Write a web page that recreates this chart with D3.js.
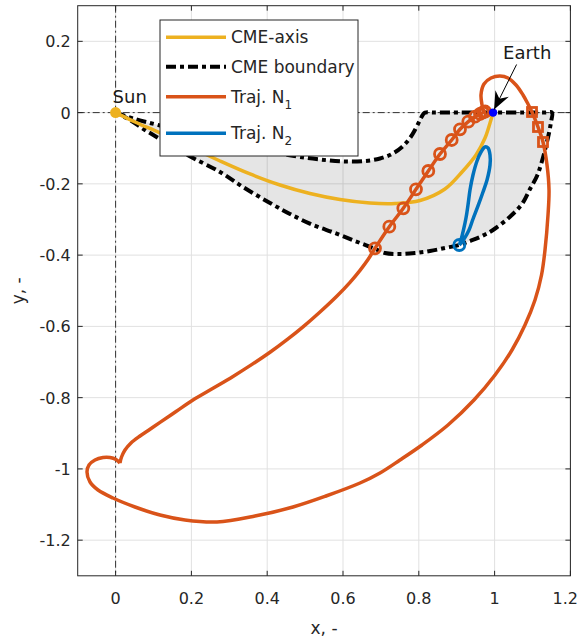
<!DOCTYPE html>
<html>
<head>
<meta charset="utf-8">
<script src="https://cdn.jsdelivr.net/npm/d3@7"></script>
<style>
  html, body { margin: 0; padding: 0; background: #fff; }
  svg { display: block; font-family: "DejaVu Sans", sans-serif; }
</style>
</head>
<body>
<svg id="chart" width="579" height="643"></svg>
<script>
// ---------------- data ----------------
const xTicks = [0, 0.2, 0.4, 0.6, 0.8, 1, 1.2];
const yTicks = [0.2, 0, -0.2, -0.4, -0.6, -0.8, -1, -1.2];
const xTickLabels = ["0", "0.2", "0.4", "0.6", "0.8", "1", "1.2"];
const yTickLabels = ["0.2", "0", "-0.2", "-0.4", "-0.6", "-0.8", "-1", "-1.2"];

// CME axis (yellow)
const cmeAxisX = [0, 0.0512, 0.1172, 0.1963, 0.2755, 0.3546, 0.4338, 0.5129, 0.5921, 0.6712, 0.7372, 0.8032, 0.8691, 0.9140, 0.9509, 0.9747, 0.9879, 0.996];
const cmeAxisY = [0, -0.0264, -0.0573, -0.0965, -0.1358, -0.1723, -0.2032, -0.2271, -0.2439, -0.2537, -0.2551, -0.2467, -0.2144, -0.1667, -0.1190, -0.0713, -0.0292, 0];

// CME boundary (closed contour)
const cmeBoundX = [0, 0.0512, 0.1172, 0.2227, 0.3282, 0.4417, 0.4865, 0.5393, 0.6000, 0.6580, 0.6976, 0.7293, 0.7557, 0.7768, 0.7926, 0.8032, 0.8111, 0.8164,
  0.8427, 1.1330, 1.1514, 1.1488, 1.1435, 1.1356, 1.1251, 1.1119, 1.0934, 1.0723, 1.0406, 0.9958, 0.9615, 0.9351, 0.9061, 0.8691, 0.8296, 0.7900,
  0.7504, 0.7108, 0.6792, 0.6317, 0.5789, 0.5208, 0.4602, 0.4074, 0.3362, 0.2755, 0.2042, 0.1567, 0.1172, 0.0776, 0.0380, 0];
const cmeBoundY = [0, -0.0180, -0.0362, -0.0657, -0.0937, -0.1162, -0.1246, -0.1316, -0.1372, -0.1358, -0.1288, -0.1162, -0.0965, -0.0713, -0.0432, -0.0208, -0.0053, 0,
  0, 0, 0, -0.0264, -0.0573, -0.0937, -0.1358, -0.1779, -0.2144, -0.2565, -0.2922, -0.3295, -0.3491, -0.3604, -0.3716, -0.3800, -0.3885, -0.3941,
  -0.3969, -0.3941, -0.3800, -0.3604, -0.3379, -0.3154, -0.2846, -0.2537, -0.2088, -0.1667, -0.1274, -0.0994, -0.0741, -0.0488, -0.0208, 0];

// Trajectory N1 (orange)
const traj1X = [0.0116, 0.0156, 0.0248, 0.0406, 0.0644, 0.0908, 0.1172, 0.1594, 0.2042, 0.2570, 0.3098, 0.3599, 0.4074, 0.4523, 0.4945, 0.5393,
  0.5842, 0.6185, 0.6449, 0.6660, 0.6844, 0.7222, 0.7591, 0.7926, 0.8251, 0.8559, 0.8868, 0.9087, 0.9306, 0.9483, 0.9615, 0.9694,
  0.9681, 0.9641, 0.9720, 0.9905, 1.0142, 1.0354, 1.0565, 1.0750, 1.0881, 1.0987, 1.1145, 1.1277, 1.1383, 1.1436, 1.1409, 1.1330,
  1.1238, 1.1066, 1.0802, 1.0459, 1.0011, 0.9456, 0.8770, 0.8084, 0.7504, 0.6976, 0.6449, 0.5551, 0.4681, 0.3678, 0.2675, 0.1831,
  0.1172, 0.0512, -0.0069, -0.0464, -0.0675, -0.0755, -0.0702, -0.0544, -0.0332, -0.0148, 0.0011, 0.0116];
const traj1Y = [-0.9834, -0.9666, -0.9470, -0.9273, -0.9077, -0.8886, -0.8695, -0.8389, -0.8066, -0.7737, -0.7404, -0.7067, -0.6725, -0.6371, -0.6012, -0.5596,
  -0.5147, -0.4763, -0.4426, -0.4123, -0.3809, -0.3202, -0.2686, -0.2153, -0.1639, -0.1162, -0.0769, -0.0469, -0.0255, -0.0115, -0.0039, 0.0003,
  0.0129, 0.0494, 0.0803, 0.0971, 0.1027, 0.0971, 0.0775, 0.0494, 0.0241, 0.0017, -0.0404, -0.0825, -0.1471, -0.2172, -0.2874, -0.3856,
  -0.4558, -0.5260, -0.5962, -0.6663, -0.7365, -0.8066, -0.8768, -0.9329, -0.9750, -1.0115, -1.0396, -1.0761, -1.1069, -1.1322, -1.1490, -1.1434,
  -1.1294, -1.1069, -1.0817, -1.0592, -1.0368, -1.0087, -0.9890, -0.9750, -0.9680, -0.9680, -0.9736, -0.9834];
const traj1CircleX = [0.6844, 0.7222, 0.7591, 0.7926, 0.8251, 0.8559, 0.8868, 0.9087, 0.9306, 0.9483, 0.9615, 0.9694, 0.975];
const traj1CircleY = [-0.3809, -0.3202, -0.2686, -0.2153, -0.1639, -0.1162, -0.0769, -0.0469, -0.0255, -0.0115, -0.0039, 0.0003, 0.003];
const traj1SquareX = [1.0987, 1.1145, 1.1277];
const traj1SquareY = [0.0017, -0.0404, -0.0825];

// Trajectory N2 (blue)
const traj2X = [0.9069, 0.9113, 0.9179, 0.9245, 0.9298, 0.9351, 0.9430, 0.9536, 0.9641, 0.9747, 0.9826, 0.9879, 0.9879, 0.9800, 0.9694, 0.9562, 0.9430, 0.9325, 0.9193, 0.9069];
const traj2Y = [-0.3716, -0.3575, -0.3294, -0.2958, -0.2593, -0.2172, -0.1751, -0.1358, -0.1106, -0.0965, -0.0993, -0.1190, -0.1471, -0.1892, -0.2228, -0.2621, -0.2986, -0.3294, -0.3547, -0.3716];
const traj2StartX = [0.9069];
const traj2StartY = [-0.3716];

const sunPos = [0, 0];
const earthPos = [0.996, 0];
const earthLabelPos = [1.086, 0.168];
const earthArrowTail = [1.058, 0.135];

const legendLabels = [["CME-axis", ""], ["CME boundary", ""], ["Traj. N", "1"], ["Traj. N", "2"]];

// ---------------- drawing ----------------
const colYellow = "#EDB120", colOrange = "#D95319", colBlue = "#0072BD";
const W = 579;
const svg = d3.select("#chart");
const L = 77.7, R = 570.4, T = 5.7, B = 575.8;
const x = d3.scaleLinear().domain([-0.1, 1.2]).range([L, R]);
const y = d3.scaleLinear().domain([-1.3, 0.3]).range([B, T]);
const zip = (xs, ys) => xs.map((v, i) => [v, ys[i]]);
const line = d3.line().x(d => x(d[0])).y(d => y(d[1])).curve(d3.curveCatmullRom.alpha(0.5));

svg.append("defs").append("clipPath").attr("id", "clip")
  .append("rect").attr("x", L).attr("y", T).attr("width", R - L).attr("height", B - T);

// grid
const grid = svg.append("g");
grid.selectAll(".gx").data(xTicks).join("line")
  .attr("x1", d => x(d)).attr("x2", d => x(d)).attr("y1", T).attr("y2", B)
  .attr("stroke", "#e1e1e1").attr("stroke-width", 1);
grid.selectAll(".gy").data(yTicks).join("line")
  .attr("y1", d => y(d)).attr("y2", d => y(d)).attr("x1", L).attr("x2", R)
  .attr("stroke", "#e1e1e1").attr("stroke-width", 1);

const plot = svg.append("g").attr("clip-path", "url(#clip)");

// reference dash-dot lines
plot.append("line").attr("x1", x(0)).attr("x2", x(0)).attr("y1", T).attr("y2", B)
  .attr("stroke", "#333").attr("stroke-width", 1).attr("stroke-dasharray", "7,3,2,3");
plot.append("line").attr("x1", L).attr("x2", R).attr("y1", y(0)).attr("y2", y(0))
  .attr("stroke", "#333").attr("stroke-width", 1).attr("stroke-dasharray", "7,3,2,3");

// CME boundary
plot.append("path").datum(zip(cmeBoundX, cmeBoundY))
  .attr("d", line).attr("fill", "#000").attr("fill-opacity", 0.1).attr("stroke", "none");
plot.append("path").datum(zip(cmeBoundX, cmeBoundY))
  .attr("d", line).attr("fill", "none").attr("stroke", "#000").attr("stroke-width", 4)
  .attr("stroke-dasharray", "10,4,4,4");

// CME axis
plot.append("path").datum(zip(cmeAxisX, cmeAxisY))
  .attr("d", line).attr("fill", "none").attr("stroke", colYellow).attr("stroke-width", 3.5);

// Trajectory N1
plot.append("path").datum(zip(traj1X, traj1Y))
  .attr("d", line).attr("fill", "none").attr("stroke", colOrange).attr("stroke-width", 3.5);
plot.selectAll(".c1").data(zip(traj1CircleX, traj1CircleY)).join("circle")
  .attr("cx", d => x(d[0])).attr("cy", d => y(d[1])).attr("r", 5.5)
  .attr("fill", "none").attr("stroke", colOrange).attr("stroke-width", 2.8);
plot.selectAll(".s1").data(zip(traj1SquareX, traj1SquareY)).join("rect")
  .attr("x", d => x(d[0]) - 4.5).attr("y", d => y(d[1]) - 4.5).attr("width", 9).attr("height", 9)
  .attr("fill", "none").attr("stroke", colOrange).attr("stroke-width", 2.8);

// Trajectory N2
plot.append("path").datum(zip(traj2X, traj2Y))
  .attr("d", line).attr("fill", "none").attr("stroke", colBlue).attr("stroke-width", 3.5);
plot.selectAll(".c2").data(zip(traj2StartX, traj2StartY)).join("circle")
  .attr("cx", d => x(d[0])).attr("cy", d => y(d[1])).attr("r", 5.5)
  .attr("fill", "none").attr("stroke", colBlue).attr("stroke-width", 2.8);

// Sun & Earth
plot.append("circle").attr("cx", x(sunPos[0])).attr("cy", y(sunPos[1])).attr("r", 5.5).attr("fill", colYellow);
plot.append("circle").attr("cx", x(earthPos[0])).attr("cy", y(earthPos[1])).attr("r", 4.2).attr("fill", "#0000ff");

svg.append("text").attr("x", x(sunPos[0]) - 3).attr("y", y(sunPos[1]) - 10)
  .attr("font-size", 18).attr("fill", "#1a1a1a").text("Sun");
svg.append("text").attr("x", x(earthLabelPos[0])).attr("y", y(earthLabelPos[1]) + 6)
  .attr("text-anchor", "middle").attr("font-size", 18).attr("fill", "#1a1a1a").text("Earth");

// arrow
const mk = svg.select("defs").append("marker").attr("id", "arr")
  .attr("markerUnits", "userSpaceOnUse").attr("markerWidth", 22).attr("markerHeight", 22)
  .attr("viewBox", "-20 -11 22 22").attr("refX", 0).attr("refY", 0).attr("orient", "auto");
mk.append("path").attr("d", "M0,0 L-18,-7.5 L-12,0 L-18,7.5 Z").attr("fill", "#000");
svg.append("line")
  .attr("x1", x(earthArrowTail[0])).attr("y1", y(earthArrowTail[1]))
  .attr("x2", x(earthPos[0]) + 1).attr("y2", y(earthPos[1]) - 3)
  .attr("stroke", "#000").attr("stroke-width", 1).attr("marker-end", "url(#arr)");

// axes box & ticks
const ax = svg.append("g").attr("stroke", "#262626").attr("stroke-width", 1);
ax.append("rect").attr("x", L).attr("y", T).attr("width", R - L).attr("height", B - T).attr("fill", "none");
xTicks.forEach(t => {
  ax.append("line").attr("x1", x(t)).attr("x2", x(t)).attr("y1", B).attr("y2", B - 5);
  ax.append("line").attr("x1", x(t)).attr("x2", x(t)).attr("y1", T).attr("y2", T + 5);
});
yTicks.forEach(t => {
  ax.append("line").attr("y1", y(t)).attr("y2", y(t)).attr("x1", L).attr("x2", L + 5);
  ax.append("line").attr("y1", y(t)).attr("y2", y(t)).attr("x1", R).attr("x2", R - 5);
});
svg.append("g").selectAll("text").data(xTicks).join("text")
  .attr("x", d => x(d)).attr("y", B + 28).attr("text-anchor", "middle")
  .attr("font-size", 16).attr("fill", "#262626").text((d, i) => xTickLabels[i])
  .each(function (d) {
    const w = this.getComputedTextLength();
    const cx = Math.min(x(d), W - w / 2 - 1);
    d3.select(this).attr("x", cx);
  });
svg.append("g").selectAll("text").data(yTicks).join("text")
  .attr("x", L - 7).attr("y", d => y(d) + 6).attr("text-anchor", "end")
  .attr("font-size", 16).attr("fill", "#262626").text((d, i) => yTickLabels[i]);
svg.append("text").attr("x", (L + R) / 2).attr("y", B + 58).attr("text-anchor", "middle")
  .attr("font-size", 17).attr("fill", "#262626").text("x, -");
svg.append("text").attr("transform", `translate(24,${(T + B) / 2}) rotate(-90)`)
  .attr("text-anchor", "middle").attr("font-size", 17).attr("fill", "#262626").text("y, -");

// legend
const lg = svg.append("g");
lg.append("rect").attr("x", 160).attr("y", 20).attr("width", 198).attr("height", 136)
  .attr("fill", "#fff").attr("stroke", "#262626").attr("stroke-width", 1);
const rowsY = [37.3, 66.7, 96.7, 133.3];
const styles = [
  { c: colYellow, d: null }, { c: "#000", d: "10,4,4,4" }, { c: colOrange, d: null }, { c: colBlue, d: null }];
legendLabels.forEach((lab, i) => {
  lg.append("line").attr("x1", 166).attr("x2", 226).attr("y1", rowsY[i]).attr("y2", rowsY[i])
    .attr("stroke", styles[i].c).attr("stroke-width", i === 1 ? 4 : 3.5)
    .attr("stroke-dasharray", styles[i].d);
  const t = lg.append("text").attr("x", 231).attr("y", rowsY[i] + 6).attr("font-size", 17).attr("fill", "#262626");
  t.append("tspan").text(lab[0]);
  if (lab[1]) t.append("tspan").attr("dy", 6).attr("font-size", 12).text(lab[1]);
});
</script>
</body>
</html>
